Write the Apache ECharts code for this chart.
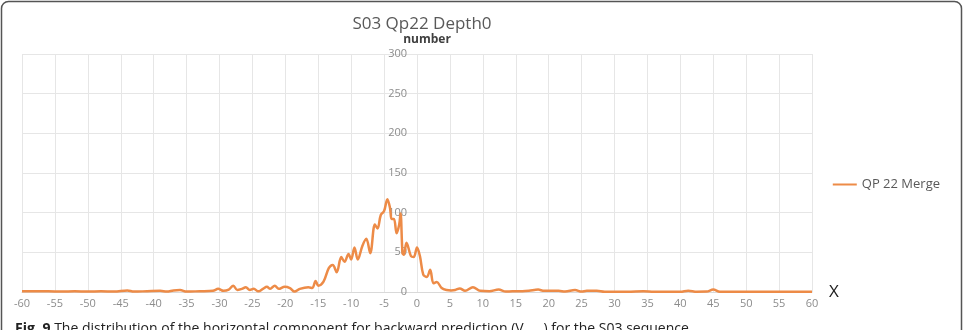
<!DOCTYPE html>
<html>
<head>
<meta charset="utf-8">
<script src="https://cdn.jsdelivr.net/npm/echarts@6/dist/echarts.min.js"></script>
<style>
  html, body { margin: 0; padding: 0; background: #fff; }
  #chart { width: 965px; height: 330px; }
</style>
</head>
<body>
<div id="chart"></div>
<script>
// motion vector component (x) and number of occurrences
const mvX = [
  -60, -58, -56, -54, -52, -50, -48, -46, -44, -43, -41, -39, -38, -37, -36, -35, -33, -31,
  -30.2, -29.4, -28.6, -27.9, -27.3, -26.6, -26, -25.4, -24.8, -24.1, -23.4, -22.8, -22.3,
  -21.6, -21, -20.1, -19.3, -18.6, -17.8, -16.5, -15.9, -15.4, -15, -14.2, -13.4, -12.8,
  -12.2, -11.5, -11, -10.4, -10, -9.5, -9, -8.3, -7.7, -7.1, -6.4, -6, -5.5, -5, -4.5,
  -4.1, -3.85, -3.5, -3.1, -2.7, -2.5, -2.2, -2, -1.6, -0.9, -0.5, 0, 0.45, 0.95, 1.5, 2,
  2.5, 3, 3.75, 4.5, 5.2, 5.8, 6.5, 7.3, 8.5, 9.6, 11, 12.4, 13.5, 14.5, 16, 17, 18.4, 19.3,
  20.3, 21.5, 22.5, 24, 25, 25.8, 27.3, 28.5, 30, 32, 34.4, 36, 38, 40, 41.2, 42.5, 44, 45,
  46, 48, 52, 56, 60
];
const merge = [
  1, 1, 1, 0.5, 1, 0.5, 1, 0.5, 2, 0.5, 1, 1.5, 0.5, 2, 2.5, 0.5, 1, 1.5,
  4, 1.5, 3, 8, 2.5, 4, 6, 2.5, 4, 0.8, 4, 6.7, 4,
  8, 4, 6.7, 5, 0.5, 4, 6, 5, 14, 8, 13, 30, 34,
  25, 44, 38, 48, 41, 56, 41, 58, 67, 49, 85, 80, 97, 102, 117,
  106, 92, 92, 74, 85, 99, 49, 47, 62, 45, 44, 56, 45, 22, 19, 28,
  11, 12.5, 5, 2.5, 2, 2.5, 4.5, 1.5, 6, 1.5, 1, 3, 0.5, 1, 1, 1.5, 3, 1.5,
  1.5, 1.5, 0.5, 2.5, 0.5, 1.5, 1.5, 0.3, 0.3, 0.3, 1, 0.3, 0.3, 0.3, 1.7, 0.3, 0.5, 3,
  0.3, 0.3, 0.3, 0.3, 0.3
];
const seriesName = 'QP 22 Merge';

const chart = echarts.init(document.getElementById('chart'));
const font = '"Open Sans", "Liberation Sans", sans-serif';

chart.setOption({
  animation: false,
  textStyle: { fontFamily: font },
  title: [
    {
      text: 'S03 Qp22 Depth0',
      left: 417, top: 11, textAlign: 'center',
      textStyle: { fontSize: 17, fontWeight: 'normal', color: '#595959', fontFamily: font }
    },
    {
      text: 'number',
      left: 422, top: 29, textAlign: 'center',
      textStyle: { fontSize: 12, fontWeight: 'bold', color: '#404040', fontFamily: font }
    }
  ],
  legend: {
    data: [seriesName],
    right: 20, top: 173,
    itemWidth: 24, itemHeight: 2, itemGap: 4,
    icon: 'rect',
    textStyle: { fontSize: 13, color: '#595959', fontFamily: font }
  },
  grid: { left: 22, right: 153, top: 54, bottom: 38, containLabel: false },
  xAxis: {
    type: 'value', min: -60, max: 60, interval: 5,
    name: 'X', nameLocation: 'end', nameGap: 17,
    nameTextStyle: { fontSize: 17, color: '#222', verticalAlign: 'middle', padding: [24, 0, 0, 0] },
    axisLine: { onZero: false, lineStyle: { color: '#d9d9d9', width: 1 } },
    axisTick: { show: false },
    axisLabel: { color: '#8c8c8c', fontSize: 11, margin: 6 },
    splitLine: { show: true, lineStyle: { color: '#e6e6e6' } }
  },
  yAxis: {
    type: 'value', min: 0, max: 300, interval: 50,
    offset: -395,
    axisLine: { show: false },
    axisTick: { show: false },
    axisLabel: { color: '#8c8c8c', fontSize: 11, margin: 10 },
    splitLine: { show: true, lineStyle: { color: '#e6e6e6' } }
  },
  series: [{
    name: seriesName,
    type: 'line',
    data: mvX.map((x, i) => [x, merge[i]]),
    smooth: 0.35,
    symbol: 'none',
    lineStyle: { color: '#ED8B47', width: 2.5 },
    itemStyle: { color: '#ED8B47' }
  }],
  graphic: [
    {
      type: 'rect',
      shape: { x: 1.5, y: 1.5, width: 960, height: 360, r: 7 },
      style: { fill: 'none', stroke: '#555', lineWidth: 1.5 },
      silent: true
    },
    {
      type: 'text',
      left: 15, top: 322,
      style: {
        text: '{b|Fig. 9} The distribution of the horizontal component for backward prediction (V{s|mv,x}) for the S03 sequence',
        fontFamily: font, fontSize: 14, fill: '#222',
        rich: {
          b: { fontWeight: 'bold', fontSize: 14, fontFamily: font, fill: '#222' },
          s: { fontSize: 9, fontFamily: font, fill: '#222', padding: [8, 0, 0, 0] }
        }
      },
      silent: true
    }
  ]
});
</script>
</body>
</html>
